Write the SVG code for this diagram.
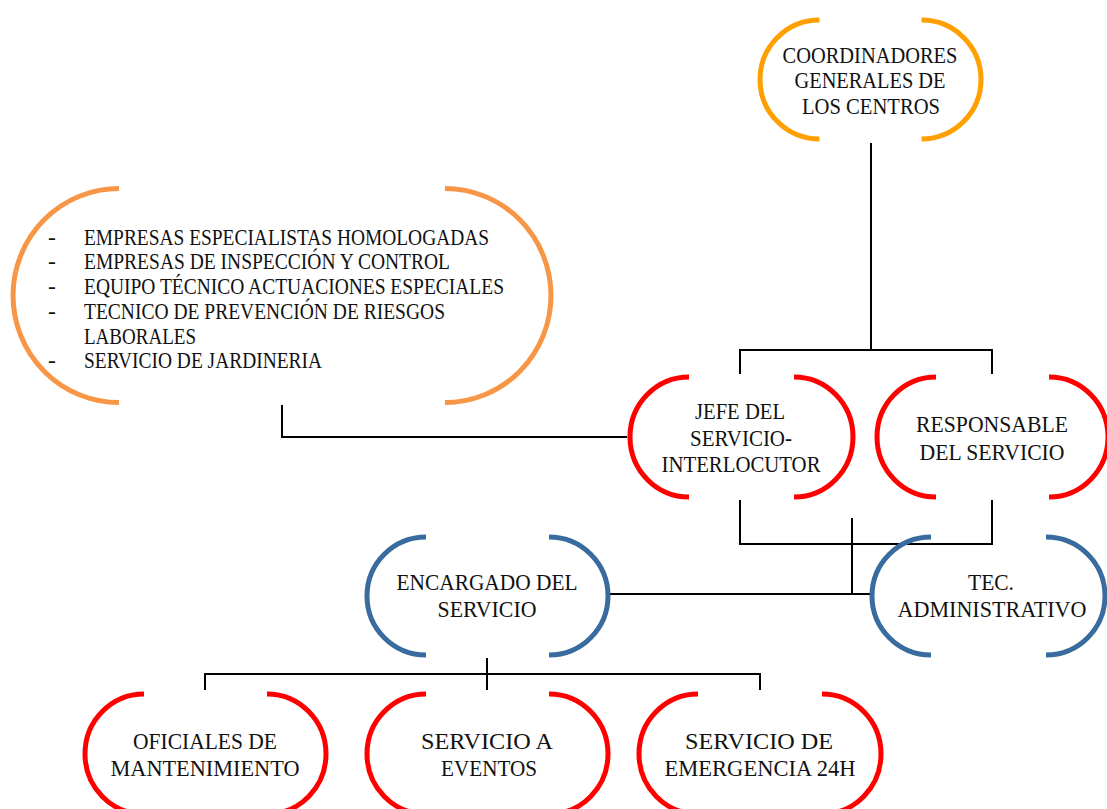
<svg xmlns="http://www.w3.org/2000/svg" width="1107" height="809" viewBox="0 0 1107 809">
<style>
.b{fill:none;stroke-width:5}
.or{stroke:#FF9F00}
.lo{stroke:#F79646}
.rd{stroke:#FF0000}
.bl{stroke:#3A6B9F}
.c{fill:none;stroke:#000;stroke-width:2}
text{font-family:"Liberation Serif","Times New Roman",serif;font-size:23.5px;fill:#111}
.m{text-anchor:middle}
</style>
<rect width="1107" height="809" fill="#fff"/>
<g id="connectors">
<path class="c" d="M871 143V350M740 374V350H992V374"/>
<path class="c" d="M282 405V437H627"/>
<path class="c" d="M740 500V544H992V500M852 518V594M606 594H872"/>
<path class="c" d="M487 658V690M205 690V674H760V690"/>
</g>
<g id="coordinadores">
<path class="b or" d="M819.5 20A59.5 59.5 0 0 0 819.5 139M921.5 20A59.5 59.5 0 0 1 921.5 139"/>
<text class="m" x="870" y="63" textLength="175" lengthAdjust="spacingAndGlyphs">COORDINADORES</text>
<text class="m" x="870" y="88" textLength="151" lengthAdjust="spacingAndGlyphs">GENERALES DE</text>
<text class="m" x="871" y="114" textLength="138" lengthAdjust="spacingAndGlyphs">LOS CENTROS</text>
</g>
<g id="empresas">
<path class="b lo" d="M119 188.5A106 107 0 0 0 119 402.5M445 188.5A106 107 0 0 1 445 402.5"/>
<text x="48" y="245">-</text><text x="84" y="245" textLength="405" lengthAdjust="spacingAndGlyphs">EMPRESAS ESPECIALISTAS HOMOLOGADAS</text>
<text x="48" y="269">-</text><text x="84" y="269" textLength="366" lengthAdjust="spacingAndGlyphs">EMPRESAS DE INSPECCIÓN Y CONTROL</text>
<text x="48" y="294">-</text><text x="84" y="294" textLength="420" lengthAdjust="spacingAndGlyphs">EQUIPO TÉCNICO ACTUACIONES ESPECIALES</text>
<text x="48" y="319">-</text><text x="84" y="319" textLength="361" lengthAdjust="spacingAndGlyphs">TECNICO DE PREVENCIÓN DE RIESGOS</text>
<text x="84" y="344" textLength="112" lengthAdjust="spacingAndGlyphs">LABORALES</text>
<text x="48" y="368">-</text><text x="84" y="368" textLength="238" lengthAdjust="spacingAndGlyphs">SERVICIO DE JARDINERIA</text>
</g>
<g id="jefe">
<path class="b rd" d="M689 377A59 60 0 0 0 689 497M794 377A59 60 0 0 1 794 497"/>
<text class="m" x="740" y="419" textLength="90" lengthAdjust="spacingAndGlyphs">JEFE DEL</text>
<text class="m" x="741" y="446" textLength="102" lengthAdjust="spacingAndGlyphs">SERVICIO-</text>
<text class="m" x="741" y="472" textLength="159" lengthAdjust="spacingAndGlyphs">INTERLOCUTOR</text>
</g>
<g id="responsable">
<path class="b rd" d="M936 377A59 60 0 0 0 936 497M1049 377A59 60 0 0 1 1049 497"/>
<text class="m" x="992" y="432" textLength="152" lengthAdjust="spacingAndGlyphs">RESPONSABLE</text>
<text class="m" x="992" y="460" textLength="145" lengthAdjust="spacingAndGlyphs">DEL SERVICIO</text>
</g>
<g id="encargado">
<path class="b bl" d="M426 537A59 59 0 0 0 426 655M549 537A59 59 0 0 1 549 655"/>
<text class="m" x="487" y="590" textLength="181" lengthAdjust="spacingAndGlyphs">ENCARGADO DEL</text>
<text class="m" x="487" y="617" textLength="99" lengthAdjust="spacingAndGlyphs">SERVICIO</text>
</g>
<g id="tec">
<path class="b bl" d="M931 537A59 59 0 0 0 931 655M1046 537A59 59 0 0 1 1046 655"/>
<text class="m" x="991" y="590" textLength="46" lengthAdjust="spacingAndGlyphs">TEC.</text>
<text class="m" x="992" y="617" textLength="189" lengthAdjust="spacingAndGlyphs">ADMINISTRATIVO</text>
</g>
<g id="oficiales">
<path class="b rd" d="M144 694A59 60 0 0 0 144 814M267 694A59 60 0 0 1 267 814"/>
<text class="m" x="205" y="749" textLength="144" lengthAdjust="spacingAndGlyphs">OFICIALES DE</text>
<text class="m" x="205" y="776" textLength="189" lengthAdjust="spacingAndGlyphs">MANTENIMIENTO</text>
</g>
<g id="eventos">
<path class="b rd" d="M426 694A59 60 0 0 0 426 814M549 694A59 60 0 0 1 549 814"/>
<text class="m" x="487" y="749" textLength="132" lengthAdjust="spacingAndGlyphs">SERVICIO A</text>
<text class="m" x="489" y="776" textLength="96" lengthAdjust="spacingAndGlyphs">EVENTOS</text>
</g>
<g id="emergencia">
<path class="b rd" d="M698 694A59 60 0 0 0 698 814M822 694A59 60 0 0 1 822 814"/>
<text class="m" x="759" y="749" textLength="148" lengthAdjust="spacingAndGlyphs">SERVICIO DE</text>
<text class="m" x="760" y="776" textLength="191" lengthAdjust="spacingAndGlyphs">EMERGENCIA 24H</text>
</g>
</svg>
